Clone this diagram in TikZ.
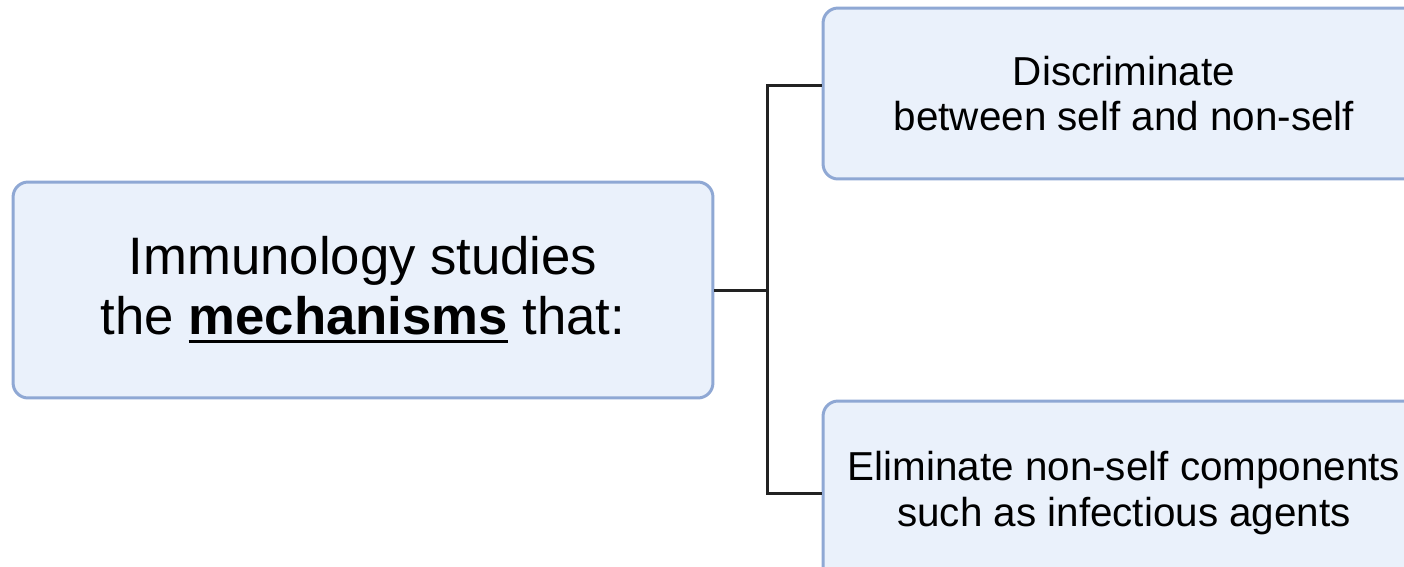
\documentclass[tikz,border=0pt]{standalone}
\usepackage{fontspec}
\setmainfont{Liberation Sans}
\usetikzlibrary{positioning}

\definecolor{boxfill}{HTML}{EAF1FB}
\definecolor{boxline}{HTML}{8FA8D4}
\definecolor{linkcol}{HTML}{222222}
\newcommand\thickul[1]{\setbox0\hbox{#1}\leavevmode\rlap{\raisebox{-0.17em}{\rule{\wd0}{0.06em}}}\box0\relax}

\begin{document}
\begin{tikzpicture}[x=0.02cm, y=-0.02cm]

\tikzset{box/.style = {draw=boxline, fill=boxfill, line width=0.06cm, rounded corners=0.3cm, align=center, inner sep=0pt}}
\tikzset{edge/.style = {draw=linkcol, line width=0.06cm}}
\useasboundingbox (0,0) rectangle (1404,566);
\clip (0,0) rectangle (1404,566);
%boxes
\node[box, minimum width=14cm, minimum height=4.32cm, font=\fontsize{30}{34}\selectfont] (imm) at (363,290)
  {Immunology studies\\the \thickul{\textbf{mechanisms}} that:};
\node[box, minimum width=12.04cm, minimum height=3.42cm, font=\fontsize{23}{26}\selectfont] (disc) at (1124,93.5)
  {Discriminate\\between self and non-self};
\node[box, minimum width=12.04cm, minimum height=3.68cm, font=\fontsize{23}{26}\selectfont] (elim) at (1124,493)
  {Eliminate non-self components\\such as infectious agents};
%edges
\coordinate (jt) at (767,85);
\coordinate (jb) at (767,493);
\draw[edge] (imm.east) -- (imm.east -| jt);
\draw[edge] (disc.west |- jt) -- (jt) -- (jb) -- (elim.west);

\end{tikzpicture}
\end{document}
